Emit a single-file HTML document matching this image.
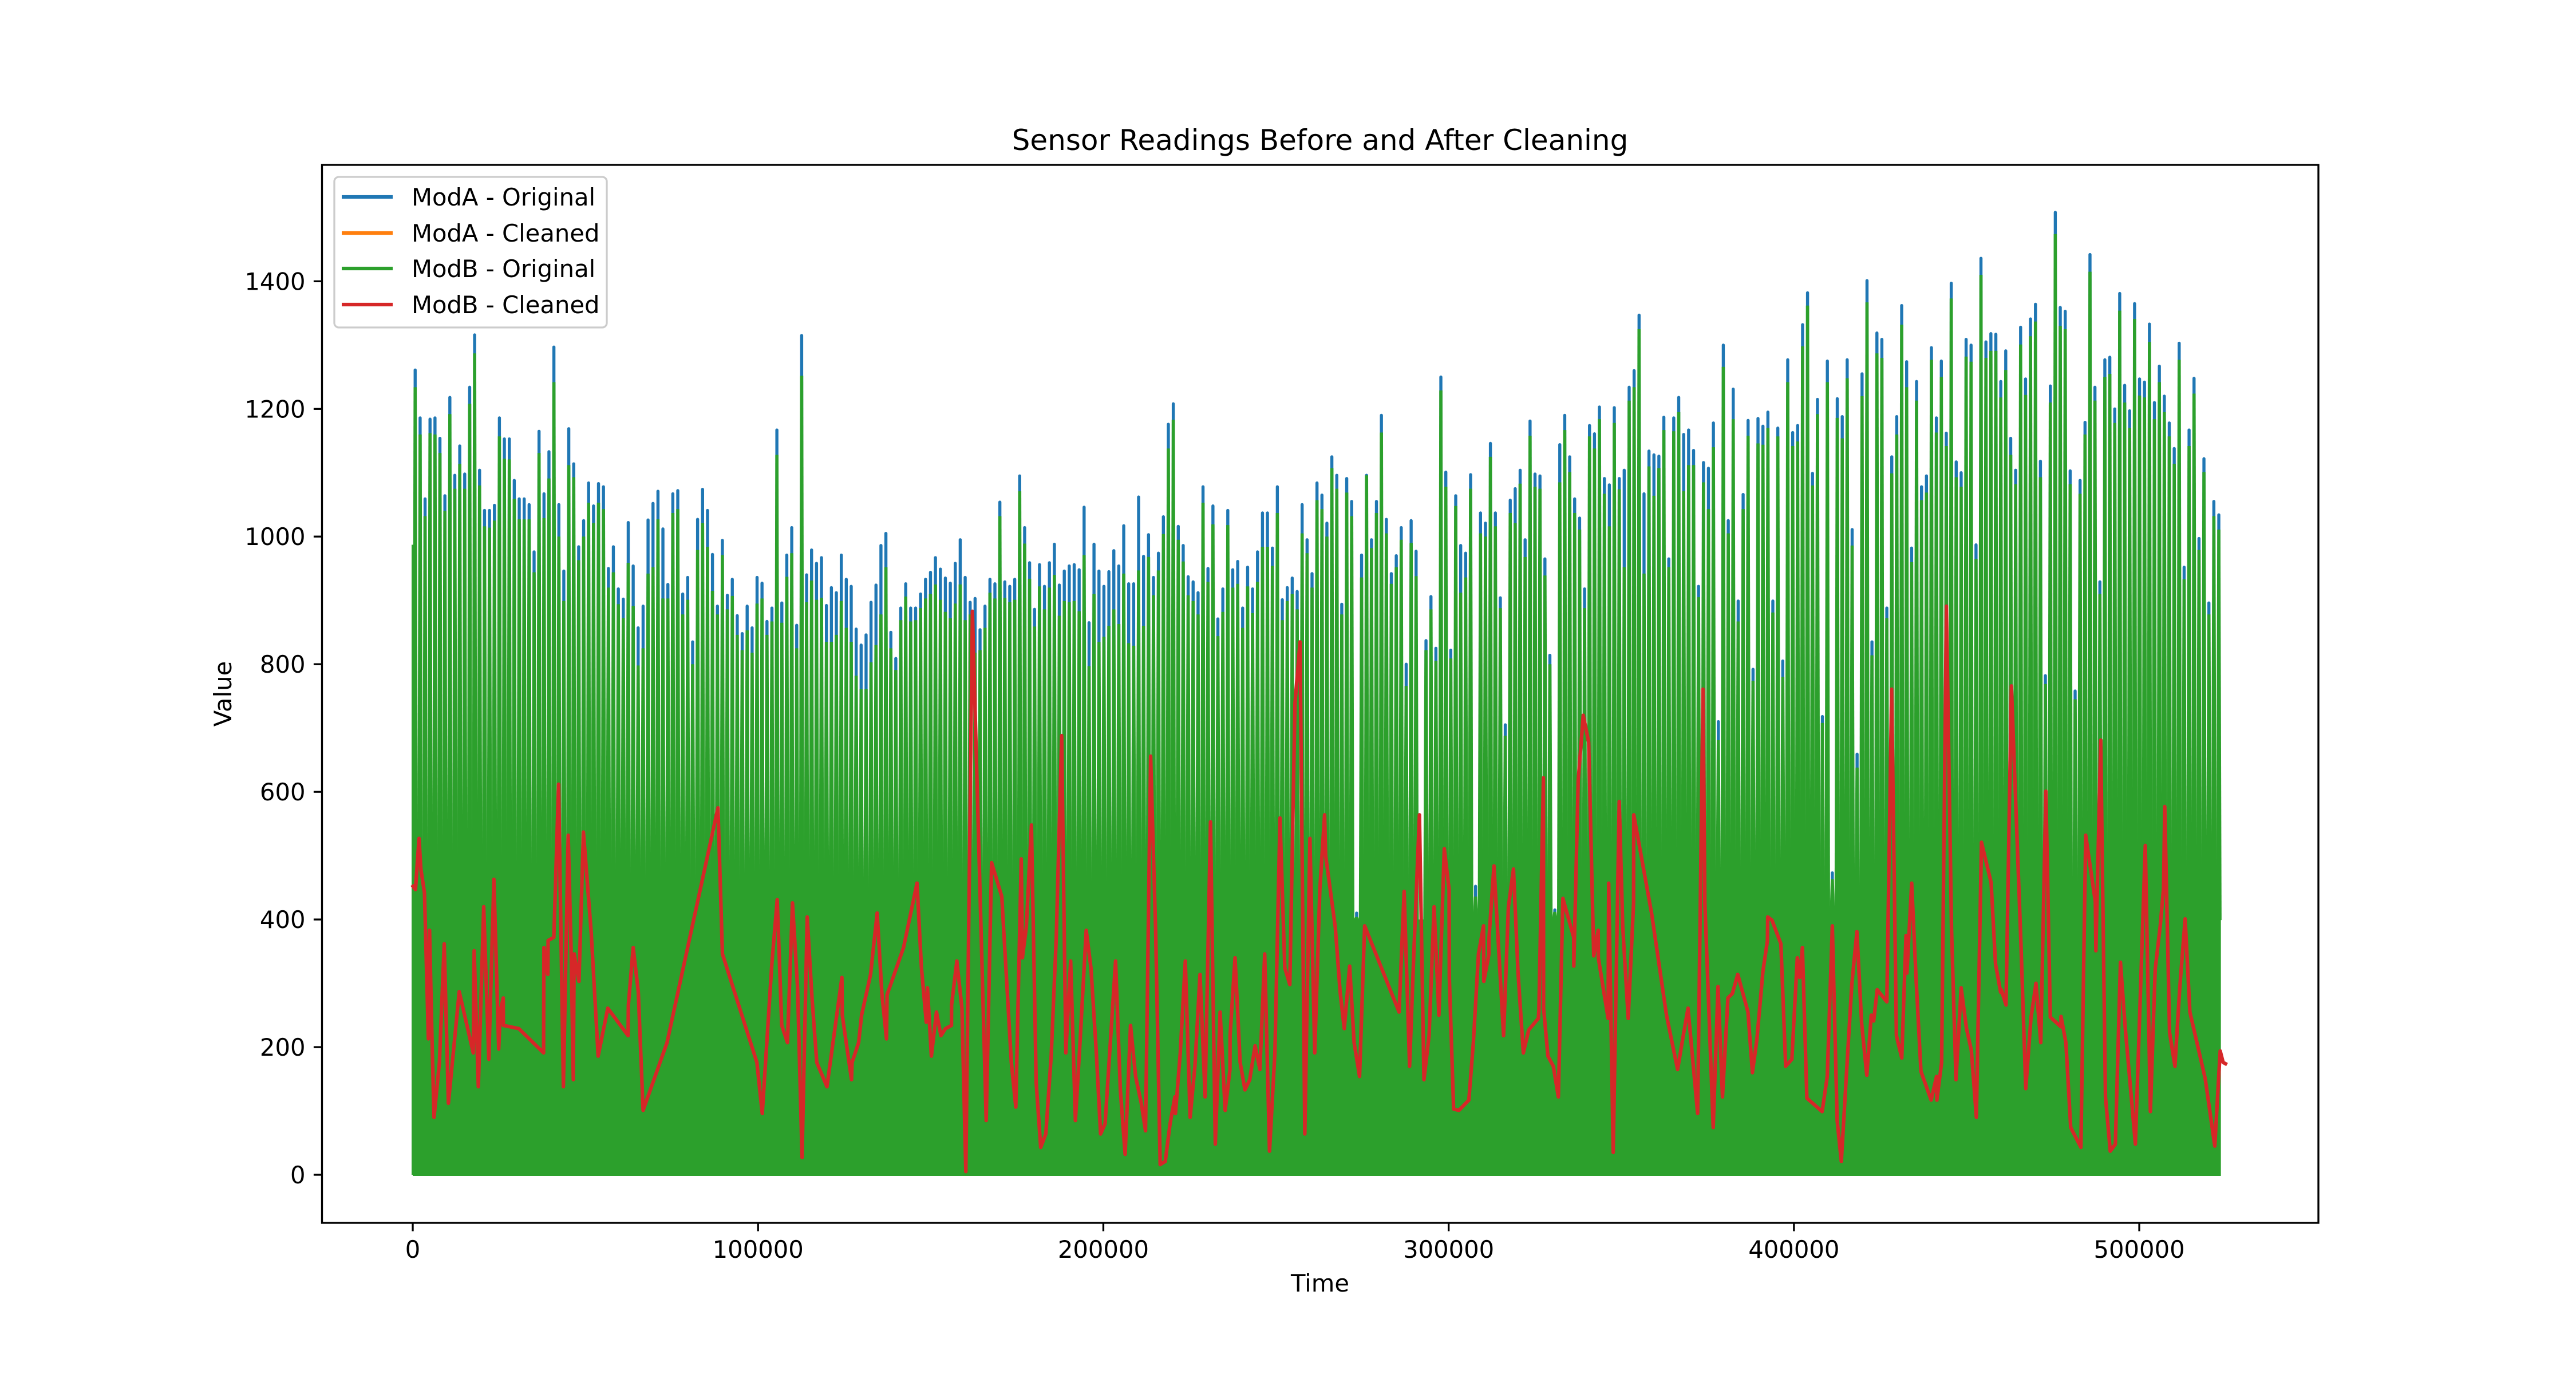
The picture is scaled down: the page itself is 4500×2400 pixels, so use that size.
<!DOCTYPE html>
<html><head><meta charset="utf-8">
<style>
html,body{margin:0;padding:0;background:#fff;}
svg{display:block;font-family:"DejaVu Sans","Liberation Sans",sans-serif;}
</style></head>
<body>
<svg id="chart" xmlns="http://www.w3.org/2000/svg" width="4500" height="2400" viewBox="0 0 4500 2400">
<rect x="0" y="0" width="4500" height="2400" fill="#fff"/>
<text x="2306" y="262" font-size="50" text-anchor="middle" fill="#000">Sensor Readings Before and After Cleaning</text>
<defs><clipPath id="plotclip"><rect x="562.5" y="288" width="3487.5" height="1848"/></clipPath></defs>
<g id="plot" clip-path="url(#plotclip)"></g>
<rect x="562.5" y="288" width="3487.5" height="1848" fill="none" stroke="#000" stroke-width="3.33"/>
<g id="xaxis"></g>
<g id="yaxis"></g>
<text x="2306" y="2256" font-size="41.7" text-anchor="middle">Time</text>
<text x="0" y="0" font-size="41.7" text-anchor="middle" transform="translate(404,1212) rotate(-90)">Value</text>
<g>
<rect x="584" y="309" width="476" height="263" rx="8" fill="#fff" fill-opacity="0.8" stroke="#cccccc" stroke-width="3.3"/>
<g><line x1="597" y1="344" x2="686" y2="344" stroke="#1f77b4" stroke-width="6.25"/><text x="719" y="359" font-size="41.7">ModA - Original</text></g>
<g><line x1="597" y1="407" x2="686" y2="407" stroke="#ff7f0e" stroke-width="6.25"/><text x="719" y="422" font-size="41.7">ModA - Cleaned</text></g>
<g><line x1="597" y1="469" x2="686" y2="469" stroke="#2ca02c" stroke-width="6.25"/><text x="719" y="484" font-size="41.7">ModB - Original</text></g>
<g><line x1="597" y1="532" x2="686" y2="532" stroke="#d62728" stroke-width="6.25"/><text x="719" y="547" font-size="41.7">ModB - Cleaned</text></g>
</g>
</svg>
<script>
const xTicks = [0, 100000, 200000, 300000, 400000, 500000];
const yTicks = [0, 200, 400, 600, 800, 1000, 1200, 1400];
const xDomain = [-26280, 551880];
const yDomain = [-75.35, 1582.4];
const STEP_MIN = 1435;
const baseLevel = 400;
const modAPeaks = [1261,1186,1059,1184,1186,1154,1064,1218,1096,1142,1098,1234,1316,1104,1041,1041,1049,1186,1153,1153,1088,1059,1059,1050,976,1165,1067,1133,1297,1050,946,1169,1114,984,1025,1084,1048,1083,1078,950,984,918,902,1022,954,857,891,1026,1052,1071,1012,925,1067,1072,910,936,835,1027,1074,1041,972,891,994,908,933,876,848,891,857,936,927,867,888,1167,896,971,1014,861,1315,940,979,958,967,892,920,912,971,933,922,855,830,846,
897,924,986,1005,850,809,888,926,888,888,910,933,944,967,949,935,927,958,995,936,897,903,854,891,933,926,1054,929,922,933,1095,1014,959,886,956,922,959,988,924,946,954,956,948,1046,865,988,946,922,945,978,954,1017,926,926,1062,969,1003,936,974,1031,1176,1208,1016,986,937,929,912,1078,950,1048,871,918,1041,948,961,888,952,918,976,1037,1037,982,1078,901,920,935,914,1050,995,942,1084,1065,
1021,1125,1096,894,1091,1055,410,971,1096,995,1055,1190,1027,942,970,1014,800,1025,977,290,837,906,825,1250,1101,822,1064,986,974,1097,452,1037,1021,1146,1037,904,705,1057,1075,1104,995,1181,1098,1095,965,814,415,1144,1190,1125,1059,1029,918,1174,1161,1203,1091,1081,1202,1091,1104,1234,1260,1347,1067,1134,1128,1126,1187,965,1186,1218,1160,1167,1135,922,1116,1107,1178,710,1300,1025,1231,899,1066,1182,792,1185,1173,1195,899,1170,
805,1277,1163,1174,1332,1382,1099,1215,718,1275,473,1216,1188,1277,1011,659,1255,1401,835,1319,1309,888,1125,1188,1362,1274,982,1243,1078,1095,1296,1186,1275,1162,1397,1117,1100,1309,1300,987,1436,1305,1318,1317,1243,1291,1154,1104,1328,1247,1341,1364,1118,782,1236,1508,1359,1353,1103,758,1088,1179,1442,1234,929,1277,1281,1200,1381,1237,1197,1365,1247,1242,1333,1210,1267,1220,1178,1138,1303,952,1167,1248,997,1122,896,1055,1034];
const modBPeaks = [1234,1160,1032,1162,1160,1131,1040,1192,1075,1114,1075,1208,1287,1080,1016,1014,1025,1157,1122,1121,1059,1027,1027,1027,944,1131,1029,1091,1242,1000,899,1112,1093,963,1000,1053,1021,1053,1043,920,944,894,872,959,891,798,825,942,952,1027,903,903,1037,1043,878,901,800,979,1021,984,915,878,971,886,907,846,822,853,818,895,903,846,867,1128,865,937,974,825,1252,897,931,901,904,835,835,846,899,857,835,782,761,761,
803,830,878,952,825,791,869,906,867,869,888,903,910,925,901,882,872,895,925,869,878,818,822,857,912,903,1032,904,897,901,1071,989,934,859,922,886,920,940,876,899,897,899,883,971,797,910,835,843,860,886,863,942,833,829,947,860,968,908,947,1004,1138,1183,995,961,908,899,878,1053,929,1019,844,882,1018,920,926,857,922,880,929,984,984,954,1037,869,899,910,886,1005,974,920,1057,1043,
1000,1107,1075,878,1069,1032,404,936,1096,982,1037,1163,1005,926,952,995,766,990,938,261,822,886,805,1229,1078,809,1048,912,936,1075,436,1005,1000,1125,1016,888,688,1037,1021,1083,968,1158,1078,1075,939,800,412,1085,1167,1101,1037,1011,888,1157,1138,1184,1067,1016,1178,1074,952,1213,1234,1325,942,1110,1064,1107,1167,952,1165,1195,1071,1112,1112,905,1085,1043,1140,681,1266,1005,1184,867,1043,1158,774,1146,1144,1170,881,1157,
780,1242,1142,1149,1298,1362,1080,1192,708,1242,463,1186,1154,1248,986,638,1220,1367,814,1287,1280,872,1099,1160,1332,1234,960,1213,1057,1069,1277,1163,1250,1142,1373,1093,1078,1282,1274,965,1410,1280,1291,1291,1218,1261,1128,1082,1301,1222,1314,1337,1093,769,1210,1474,1330,1325,1082,745,1067,1160,1415,1213,910,1250,1255,1178,1354,1210,1170,1341,1221,1218,1305,1184,1242,1195,1157,1114,1277,933,1142,1224,979,1101,878,1032,1011];
const cleanTimes = [94,787,1828,2349,3389,4517,4864,5558,6165,7726,9114,10328,13450,17527,17787,18997,20560,22030,23510,24900,25330,26200,26250,30710,37900,38000,39120,39200,40860,42240,43630,45020,45890,46490,46750,48140,49440,51700,53690,56470,62360,62450,63840,65310,66700,73640,88390,89680,99660,101220,103990,105550,106860,108510,109980,111450,112750,114230,115620,117000,119950,124290,124400,127060,127240,
129120,129990,132590,134500,135890,137190,137360,142130,146030,147330,148720,149070,150200,151670,152970,154270,156010,156050,157570,159040,160170,162080,166070,167630,170580,173350,174650,176220,176560,177690,179170,180550,181850,183330,184890,186360,187920,189140,190520,191910,193300,195030,196420,197900,199200,200500,203540,204920,206310,207870,209350,210990,212210,213680,215160,216460,217930,219320,220710,220880,222270,223740,225130,226520,227990,229470,231030,232420,233810,235280,236670,236700,238140,239620,241000,242390,243950,245340,246730,248120,249680,251150,252540,254010,255490,256960,258350,259820,261210,262690,264070,
264390,267170,268560,269770,271330,272630,274190,275670,285640,287120,288680,289980,291540,292840,294320,295790,297180,298740,300130,300200,301430,302990,305850,307150,308630,310100,310190,311660,311700,313130,315910,317300,318770,320070,321630,323190,325970,326140,327440,327500,328750,330310,331780,333080,336210,336250,337510,338980,340540,342020,343310,343350,346180,346350,347650,349390,350430,351990,353550,353600,358760,363090,366300,367780,369330,372110,373670,374190,376620,378010,379310,380870,382170,383730,386680,387980,389280,391020,392320,392400,393620,396220,397600,
399400,400970,401660,402440,403740,408160,409640,411110,412500,413720,415280,416750,418230,419610,421090,422390,423080,424120,426900,428290,429670,431230,432450,432710,434100,435400,436780,439730,441290,441380,442770,444160,445630,446930,448410,449970,451360,452830,454300,457080,458380,459860,460030,461420,462980,465750,467140,468620,470090,471480,472950,474250,477290,477350,478760,480150,483100,484490,487270,487440,488830,490210,491600,493070,494550,495930,498880,501740,503220,504610,506080,507040,507380,508770,510330,511720,513280,514670,516230,519090,521870,523430,524290,524980];
const cleanValues = [452,447,527,479,442,213,383,218,90,176,362,112,287,191,351,138,420,181,463,197,255,277,234,229,191,356,314,367,372,612,138,532,346,149,346,303,537,378,186,261,218,266,356,287,101,207,575,346,176,96,330,431,234,207,426,293,27,404,277,176,138,309,250,149,176,
207,250,314,410,282,213,282,356,457,324,239,293,186,255,218,229,234,266,335,261,5,883,85,489,436,176,106,495,340,388,548,144,43,64,186,372,688,191,335,85,213,383,324,197,64,80,335,133,32,234,154,112,69,656,378,16,21,80,122,96,191,335,90,170,314,122,553,48,255,101,165,218,340,176,133,149,202,165,346,37,191,559,324,298,739,835,64,527,191,447,564,
500,388,287,229,327,207,154,390,255,444,170,356,564,149,218,420,250,511,447,309,103,101,117,207,346,390,303,346,372,484,218,420,479,319,191,227,245,258,622,261,186,170,122,433,372,327,617,720,678,343,383,340,245,457,35,585,388,245,426,564,410,250,165,213,261,96,761,426,74,295,122,277,284,314,255,160,213,319,367,404,399,362,170,
181,340,309,356,120,99,154,390,85,21,165,298,381,237,156,250,241,290,271,761,218,183,375,316,457,303,162,117,154,117,176,891,385,149,293,229,195,90,521,458,330,286,290,266,766,359,135,245,300,207,601,247,232,248,207,74,43,532,428,351,681,122,37,48,333,231,48,516,99,322,390,449,577,223,170,293,401,255,218,151,45,194,176,174];

const NS = "http://www.w3.org/2000/svg";
const X0 = 562.5, X1 = 4050, Y0 = 2136, Y1 = 288;
function xs(t){ return X0 + (t - xDomain[0]) / (xDomain[1] - xDomain[0]) * (X1 - X0); }
function ys(v){ return Y0 - (v - yDomain[0]) / (yDomain[1] - yDomain[0]) * (Y0 - Y1); }
function mk(tag, attrs, parent){ const e = document.createElementNS(NS, tag); for (const k in attrs) e.setAttribute(k, attrs[k]); parent.appendChild(e); return e; }

const plot = document.getElementById('plot');
const n = Math.min(modAPeaks.length, modBPeaks.length);
const tEnd = 700 + (n - 1) * STEP_MIN;

// ModA original (blue) spikes
const gA = mk('g', {}, plot);


for (let i = 0; i < modAPeaks.length; i++) {
  const cx = xs(700 + i * STEP_MIN);
  const ln = mk('line', {x1: cx, x2: cx, y1: ys(baseLevel), y2: ys(modAPeaks[i]), stroke: '#1f77b4', 'stroke-width': 5.4, 'stroke-linecap': 'round'}, gA);
  
  
}

// ModB original (green) base fill + spikes
const gB = mk('g', {}, plot);


const base = mk('rect', {x: xs(0), y: ys(baseLevel), width: xs(tEnd + 600) - xs(0), height: ys(0) - ys(baseLevel) + 2, fill: '#2ca02c'}, gB);


mk('line', {x1: xs(0), x2: xs(0), y1: ys(0), y2: ys(modBPeaks[0] * 0.8), stroke: '#2ca02c', 'stroke-width': 4}, gB);
for (let i = 0; i < n; i++) {
  const cx = xs(700 + i * STEP_MIN);
  const top = ys(modBPeaks[i]);
  const bot = ys(baseLevel) + 1;
  const p = mk('polygon', {points: `${cx-2.8},${top} ${cx+2.8},${top} ${cx+4.8},${bot} ${cx-4.8},${bot}`, fill: '#2ca02c'}, gB);
  
  
}

// ModB cleaned (red)
let d = '';
for (let i = 0; i < Math.min(cleanTimes.length, cleanValues.length); i++) {
  d += (i ? 'L' : 'M') + xs(cleanTimes[i]).toFixed(1) + ',' + ys(cleanValues[i]).toFixed(1);
}
const red = mk('path', {d: d, fill: 'none', stroke: '#d62728', 'stroke-width': 6.25, 'stroke-linejoin': 'round', 'stroke-linecap': 'square'}, plot);



// Axes ticks
const xa = document.getElementById('xaxis');
xTicks.forEach(function(t){
  const x = xs(t);
  const tk = mk('line', {x1: x, x2: x, y1: Y0, y2: Y0 + 14.6, stroke: '#000', 'stroke-width': 3.33}, xa);
  
  
  const lb = mk('text', {x: x, y: Y0 + 61, 'font-size': 41.7, 'text-anchor': 'middle'}, xa);
  
  
  lb.textContent = String(t);
});
const ya = document.getElementById('yaxis');
yTicks.forEach(function(v){
  const y = ys(v);
  const tk = mk('line', {x1: X0 - 14.6, x2: X0, y1: y, y2: y, stroke: '#000', 'stroke-width': 3.33}, ya);
  
  
  const lb = mk('text', {x: X0 - 29, y: y + 15, 'font-size': 41.7, 'text-anchor': 'end'}, ya);
  
  
  lb.textContent = String(v);
});
</script>
</body></html>
